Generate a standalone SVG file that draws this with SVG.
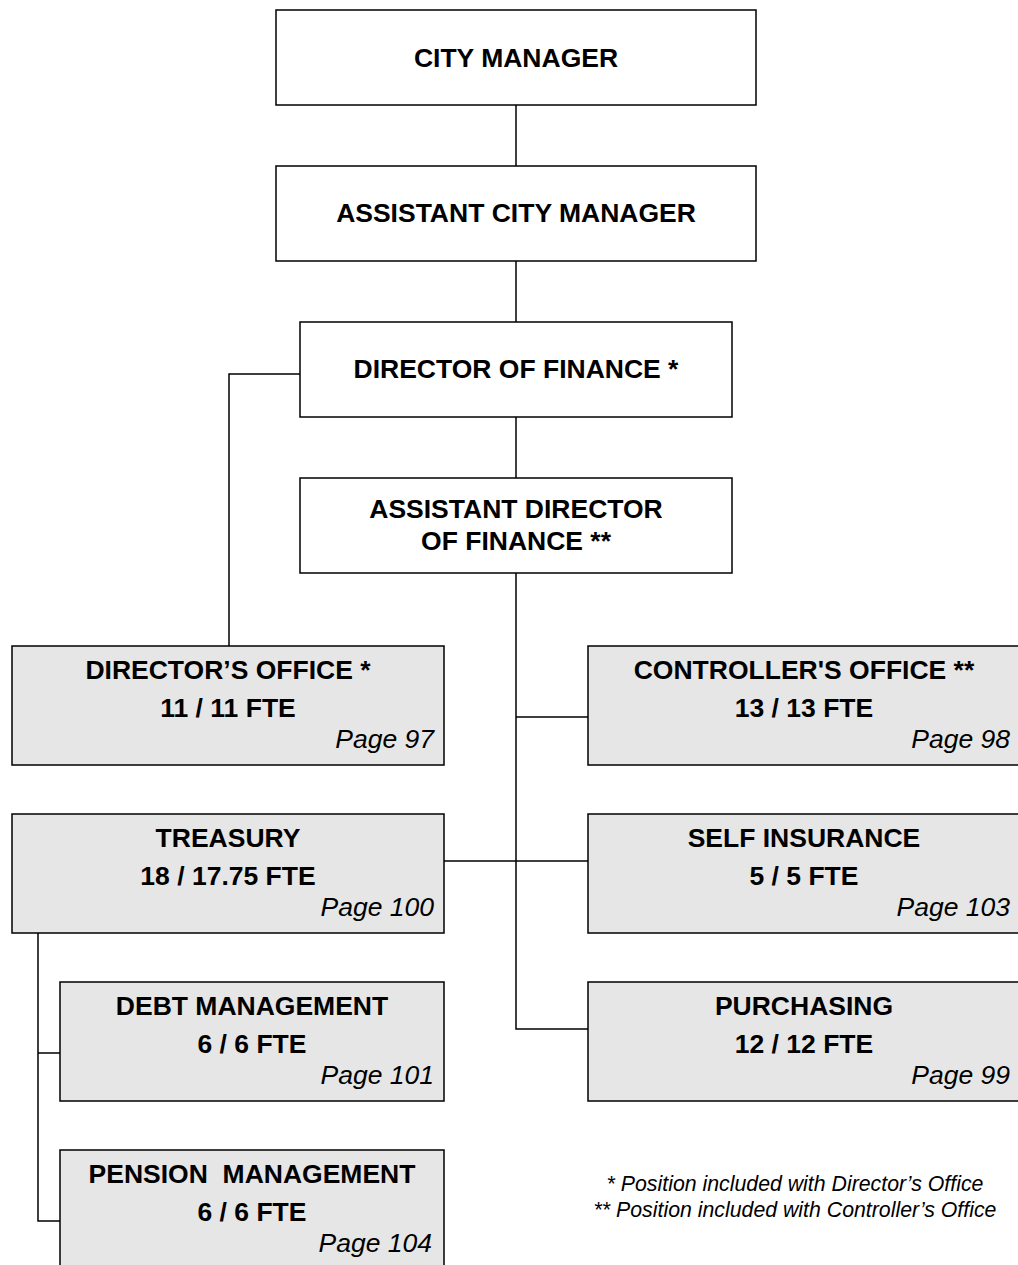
<svg xmlns="http://www.w3.org/2000/svg" width="1018" height="1265" viewBox="0 0 1018 1265">
<style>
.w{fill:#ffffff;stroke:#000;stroke-width:1.5}
.g{fill:#e6e6e6;stroke:#000;stroke-width:1.5}
.t{font-family:"Liberation Sans",Arial,sans-serif;font-weight:bold;font-size:26.5px;text-anchor:middle;fill:#000}
.p{font-family:"Liberation Sans",Arial,sans-serif;font-style:italic;font-size:26.5px;text-anchor:end;fill:#000}
.n{font-family:"Liberation Sans",Arial,sans-serif;font-style:italic;font-size:21.3px;text-anchor:middle;fill:#000}
.c{fill:none;stroke:#000;stroke-width:1.5}
</style>
<rect width="1018" height="1265" fill="#fff"/>
<g id="connectors" class="c">
<line x1="516" y1="105" x2="516" y2="166"/>
<line x1="516" y1="261" x2="516" y2="322"/>
<line x1="516" y1="417" x2="516" y2="478"/>
<polyline points="516,573 516,1029 588,1029"/>
<line x1="516" y1="717" x2="588" y2="717"/>
<line x1="444" y1="861" x2="588" y2="861"/>
<polyline points="300,374 229,374 229,646"/>
<polyline points="38,933 38,1221 60,1221"/>
<line x1="38" y1="1053" x2="60" y2="1053"/>
</g>
<g id="city-manager"><rect class="w" x="276" y="10" width="480" height="95"/><text class="t" x="516" y="67">CITY MANAGER</text></g>
<g id="assistant-city-manager"><rect class="w" x="276" y="166" width="480" height="95"/><text class="t" x="516" y="222">ASSISTANT CITY MANAGER</text></g>
<g id="director-of-finance"><rect class="w" x="300" y="322" width="432" height="95"/><text class="t" x="516" y="378">DIRECTOR OF FINANCE *</text></g>
<g id="assistant-director"><rect class="w" x="300" y="478" width="432" height="95"/><text class="t" x="516" y="518">ASSISTANT DIRECTOR</text><text class="t" x="516" y="550">OF FINANCE **</text></g>
<g id="directors-office"><rect class="g" x="12" y="646" width="432" height="119"/><text class="t" x="228" y="679">DIRECTOR’S OFFICE *</text><text class="t" x="228" y="717">11 / 11 FTE</text><text class="p" x="434" y="748">Page 97</text></g>
<g id="controllers-office"><rect class="g" x="588" y="646" width="436" height="119"/><text class="t" x="804" y="679">CONTROLLER'S OFFICE **</text><text class="t" x="804" y="717">13 / 13 FTE</text><text class="p" x="1010" y="748">Page 98</text></g>
<g id="treasury"><rect class="g" x="12" y="814" width="432" height="119"/><text class="t" x="228" y="847">TREASURY</text><text class="t" x="228" y="885">18 / 17.75 FTE</text><text class="p" x="434" y="916">Page 100</text></g>
<g id="self-insurance"><rect class="g" x="588" y="814" width="436" height="119"/><text class="t" x="804" y="847">SELF INSURANCE</text><text class="t" x="804" y="885">5 / 5 FTE</text><text class="p" x="1010" y="916">Page 103</text></g>
<g id="debt-management"><rect class="g" x="60" y="982" width="384" height="119"/><text class="t" x="252" y="1015">DEBT MANAGEMENT</text><text class="t" x="252" y="1053">6 / 6 FTE</text><text class="p" x="434" y="1084">Page 101</text></g>
<g id="purchasing"><rect class="g" x="588" y="982" width="436" height="119"/><text class="t" x="804" y="1015">PURCHASING</text><text class="t" x="804" y="1053">12 / 12 FTE</text><text class="p" x="1010" y="1084">Page 99</text></g>
<g id="pension-management"><rect class="g" x="60" y="1150" width="384" height="130"/><text class="t" x="252" y="1183" xml:space="preserve">PENSION  MANAGEMENT</text><text class="t" x="252" y="1221">6 / 6 FTE</text><text class="p" x="432" y="1252">Page 104</text></g>
<g id="notes"><text class="n" x="795" y="1191">* Position included with Director’s Office</text><text class="n" x="795" y="1217">** Position included with Controller’s Office</text></g>
</svg>
